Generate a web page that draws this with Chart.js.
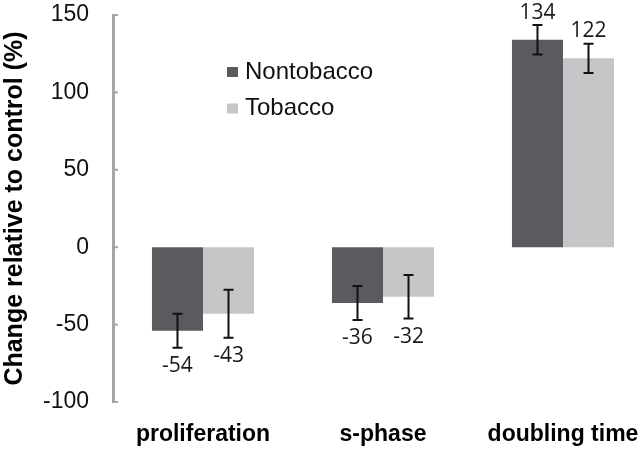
<!DOCTYPE html>
<html>
<head>
<meta charset="utf-8">
<script src="https://cdn.jsdelivr.net/npm/chart.js@4"></script>
<style>
  body { margin: 0; overflow: hidden; background: #fff; }
  #wrap { width: 658px; height: 454px; position: relative; }
</style>
</head>
<body>
<div id="wrap"><canvas id="chart"></canvas></div>
<script>
// chart values
const categories = ['proliferation', 's-phase', 'doubling time'];
const nontobacco = [-54, -36, 134];
const tobacco = [-43, -32, 122];
const nontobaccoErr = [11, 11, 9.5];
const tobaccoErr = [15.5, 14, 9.5];
const yTicks = [-100, -50, 0, 50, 100, 150];

const darkGrey = '#5a5b5e';
const lightGrey = '#c5c6c8';
const axisGrey = '#a6a6a6';

// error bars + value labels
const errorBars = {
    id: 'errorBars',
    afterDatasetsDraw(chart) {
        const ctx = chart.ctx;
        const y = chart.scales.y;
        chart.data.datasets.forEach((ds, i) => {
            const meta = chart.getDatasetMeta(i);
            meta.data.forEach((bar, j) => {
                const v = ds.data[j];
                const e = ds.errors[j];
                const top = y.getPixelForValue(v + e);
                const bot = y.getPixelForValue(v - e);
                ctx.save();
                ctx.strokeStyle = '#111';
                ctx.lineWidth = 2;
                ctx.beginPath();
                ctx.moveTo(bar.x, top); ctx.lineTo(bar.x, bot);
                ctx.moveTo(bar.x - 5, top); ctx.lineTo(bar.x + 5, top);
                ctx.moveTo(bar.x - 5, bot); ctx.lineTo(bar.x + 5, bot);
                ctx.stroke();
                ctx.fillStyle = '#1a1a1a';
                ctx.font = '21px "Open Sans"';
                ctx.textAlign = 'center';
                if (v < 0) {
                    ctx.textBaseline = 'top';
                    ctx.fillText(String(v), bar.x, bot + 8);
                } else {
                    ctx.textBaseline = 'bottom';
                    ctx.fillText(String(v), bar.x, top - 2);
                }
                ctx.restore();
            });
        });
    }
};

// small tick marks pointing into the plot, and the legend box
const extras = {
    id: 'extras',
    afterDraw(chart) {
        const ctx = chart.ctx;
        const y = chart.scales.y;
        const x0 = chart.chartArea.left;
        ctx.save();
        ctx.strokeStyle = axisGrey;
        ctx.lineWidth = 2;
        yTicks.forEach(t => {
            const py = y.getPixelForValue(t);
            ctx.beginPath();
            ctx.moveTo(x0, py); ctx.lineTo(x0 + 5, py);
            ctx.stroke();
        });
        // legend
        const rows = [[72, 0], [108.5, 1]];
        rows.forEach(([cy, i]) => {
            const ds = chart.data.datasets[i];
            ctx.fillStyle = ds.backgroundColor;
            ctx.fillRect(227, cy - 5, 11, 10);
            ctx.fillStyle = '#111';
            ctx.font = '24px "Liberation Sans", Arial';
            ctx.textAlign = 'left';
            ctx.textBaseline = 'middle';
            ctx.fillText(ds.label, 245, cy);
        });
        ctx.restore();
    }
};

const ctx = document.getElementById('chart').getContext('2d');
const chart = new Chart(ctx, {
    type: 'bar',
    data: {
        labels: categories,
        datasets: [
            {
                label: 'Nontobacco',
                data: nontobacco,
                errors: nontobaccoErr,
                backgroundColor: darkGrey
            },
            {
                label: 'Tobacco',
                data: tobacco,
                errors: tobaccoErr,
                backgroundColor: lightGrey
            }
        ]
    },
    options: {
        responsive: true,
        maintainAspectRatio: false,
        animation: false,
        layout: { padding: { top: 15, right: 5, left: 0, bottom: 0 } },
        datasets: {
            bar: { barPercentage: 1, categoryPercentage: 0.567 }
        },
        plugins: {
            legend: { display: false },
            tooltip: { enabled: false }
        },
        scales: {
            x: {
                grid: { display: false },
                border: { display: false },
                ticks: {
                    color: '#000',
                    padding: 11,
                    font: { family: '"Liberation Sans", Arial', size: 23, weight: 'bold' }
                },
                afterFit(scale) { scale.height = 52; }
            },
            y: {
                min: -100,
                max: 150,
                afterBuildTicks(scale) { scale.ticks = yTicks.map(v => ({ value: v })); },
                grid: { display: false, drawTicks: false },
                border: { display: true, color: axisGrey, width: 3 },
                ticks: {
                    color: '#111',
                    padding: 24,
                    font: { family: '"Liberation Sans", Arial', size: 23 }
                },
                title: {
                    display: true,
                    text: 'Change relative to control (%)',
                    color: '#000',
                    padding: 0,
                    font: { family: '"Liberation Sans", Arial', size: 25, weight: 'bold' }
                },
                afterFit(scale) {
                    scale.width = 113;
                    scale.paddingTop = 0;
                    scale.paddingBottom = 0;
                }
            }
        }
    },
    plugins: [errorBars, extras]
});
</script>
</body>
</html>
